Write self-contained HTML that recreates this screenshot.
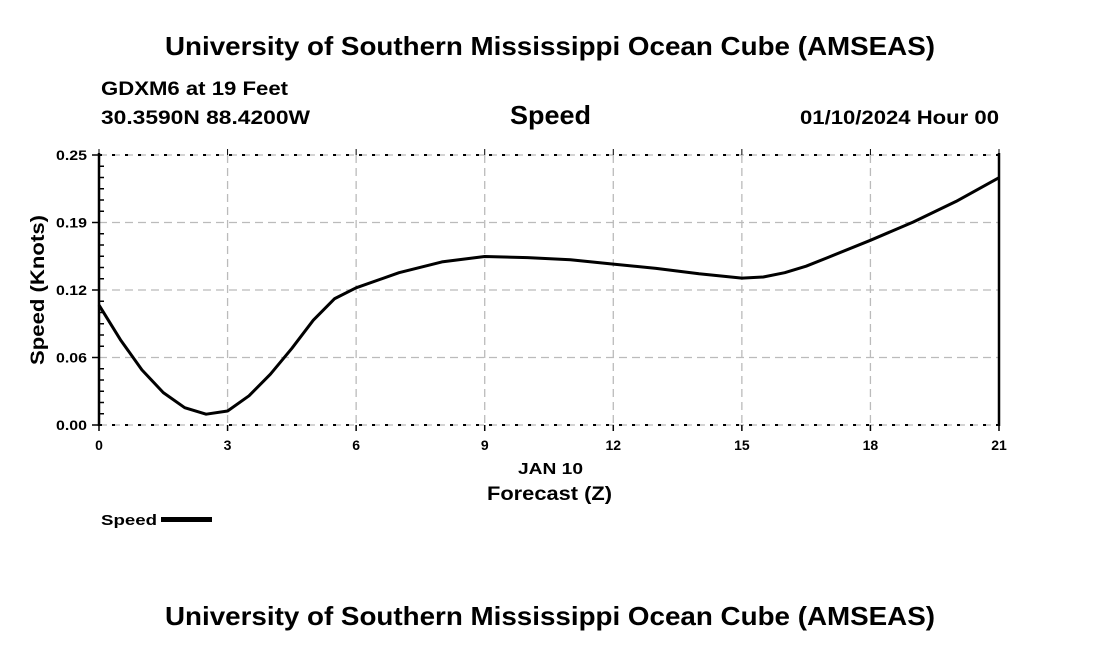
<!DOCTYPE html>
<html><head><meta charset="utf-8"><style>
body{margin:0;background:#fff;width:1100px;height:650px;overflow:hidden;font-family:"Liberation Sans",sans-serif}
svg text{font-family:"Liberation Sans",sans-serif;font-weight:bold;fill:#000}
</style></head><body>
<svg width="1100" height="650">
<text x="165" y="55" font-size="26" textLength="770" lengthAdjust="spacingAndGlyphs">University of Southern Mississippi Ocean Cube (AMSEAS)</text>
<text x="101" y="95" font-size="19" textLength="187" lengthAdjust="spacingAndGlyphs">GDXM6 at 19 Feet</text>
<text x="101" y="124" font-size="19" textLength="209" lengthAdjust="spacingAndGlyphs">30.3590N  88.4200W</text>
<text x="510" y="124" font-size="26" textLength="81" lengthAdjust="spacingAndGlyphs">Speed</text>
<text x="800" y="124" font-size="19" textLength="199" lengthAdjust="spacingAndGlyphs">01/10/2024 Hour 00</text>
<g id="grid"></g>
<g id="axes"></g>
<path id="line" fill="none" stroke="#000" stroke-width="3" stroke-linejoin="round"/>
<text x="518" y="474" font-size="16" textLength="65" lengthAdjust="spacingAndGlyphs">JAN 10</text>
<text x="487" y="500" font-size="19" textLength="125" lengthAdjust="spacingAndGlyphs">Forecast (Z)</text>
<text transform="translate(44,365) rotate(-90)" font-size="19" textLength="150" lengthAdjust="spacingAndGlyphs">Speed (Knots)</text>
<g><text x="101" y="525" font-size="15" textLength="56" lengthAdjust="spacingAndGlyphs">Speed</text><rect x="161" y="517" width="51" height="5" fill="#000"/></g>
<text x="165" y="625" font-size="26" textLength="770" lengthAdjust="spacingAndGlyphs">University of Southern Mississippi Ocean Cube (AMSEAS)</text>
</svg>
<script>
const hours=[0,0.5,1,1.5,2,2.5,3,3.5,4,4.5,5,5.5,6,7,8,9,10,11,12,13,14,15,15.5,16,16.5,17,18,19,20,21];
const speeds=[0.111,0.079,0.051,0.030,0.016,0.010,0.013,0.027,0.047,0.071,0.097,0.117,0.127,0.141,0.151,0.156,0.155,0.153,0.149,0.145,0.140,0.136,0.137,0.141,0.147,0.155,0.171,0.188,0.207,0.229];
const xTicks=[0,3,6,9,12,15,18,21];
const yTicks=[0,0.0625,0.125,0.1875,0.25];
const yLabels=["0.00","0.06","0.12","0.19","0.25"];
const X0=99,X1=999,Y0=425,Y1=155;
const xs=h=>X0+(h-0)/21*(X1-X0);
const ys=v=>Y0-v/0.25*(Y0-Y1);
const NS="http://www.w3.org/2000/svg";
function mk(t,a,p){const e=document.createElementNS(NS,t);for(const k in a)e.setAttribute(k,a[k]);p.appendChild(e);return e;}
const grid=document.getElementById('grid'),axes=document.getElementById('axes');
xTicks.forEach((h,i)=>{const x=xs(h);
 const l=mk('line',{x1:x,x2:x,y1:Y1,y2:Y0,stroke:'#bbb','stroke-width':1.3,'stroke-dasharray':'8,5'},grid);
 
 
 mk('line',{x1:x,x2:x,y1:Y1-6,y2:Y1,stroke:'#000'},axes);
 mk('line',{x1:x,x2:x,y1:Y0,y2:Y0+6,stroke:'#000','stroke-width':1.5},axes);
 const t=mk('text',{x:x,y:Y0+25,'text-anchor':'middle','font-size':14},axes);t.textContent=h;
 
 
});
yTicks.forEach((v,i)=>{const y=ys(v);
 const l=mk('line',{x1:X0,x2:X1,y1:y,y2:y,stroke:'#bbb','stroke-width':1.3,'stroke-dasharray':'8,5'},grid);
 
 
 mk('line',{x1:X0-7,x2:X0,y1:y,y2:y,stroke:'#000','stroke-width':1.5},axes);
 const t=mk('text',{x:X0-12,y:y+5,'text-anchor':'end','font-size':14,textLength:31,lengthAdjust:'spacingAndGlyphs'},axes);t.textContent=yLabels[i];
 
 
 if(i<yTicks.length-1)for(let k=1;k<6;k++){const yy=y-(ys(yTicks[i])-ys(yTicks[i+1]))*k/6;mk('line',{x1:X0,x2:X0+5,y1:yy,y2:yy,stroke:'#000','stroke-width':1.5},axes);}
});
mk('line',{x1:X0,x2:X1,y1:Y1,y2:Y1,stroke:'#000','stroke-width':2,'stroke-dasharray':'3,10'},axes);
mk('line',{x1:X0,x2:X1,y1:Y0,y2:Y0,stroke:'#000','stroke-width':2,'stroke-dasharray':'3,10'},axes);
mk('line',{x1:X1,x2:X1,y1:Y1-2,y2:Y0+1,stroke:'#000','stroke-width':2.5},axes);
mk('line',{x1:X0,x2:X0,y1:Y1-2,y2:Y0+1,stroke:'#000','stroke-width':2.5},axes);
document.getElementById('line').setAttribute('d',hours.map((h,i)=>(i?'L':'M')+xs(h).toFixed(1)+','+ys(speeds[i]).toFixed(1)).join(''));
</script>
</body></html>
